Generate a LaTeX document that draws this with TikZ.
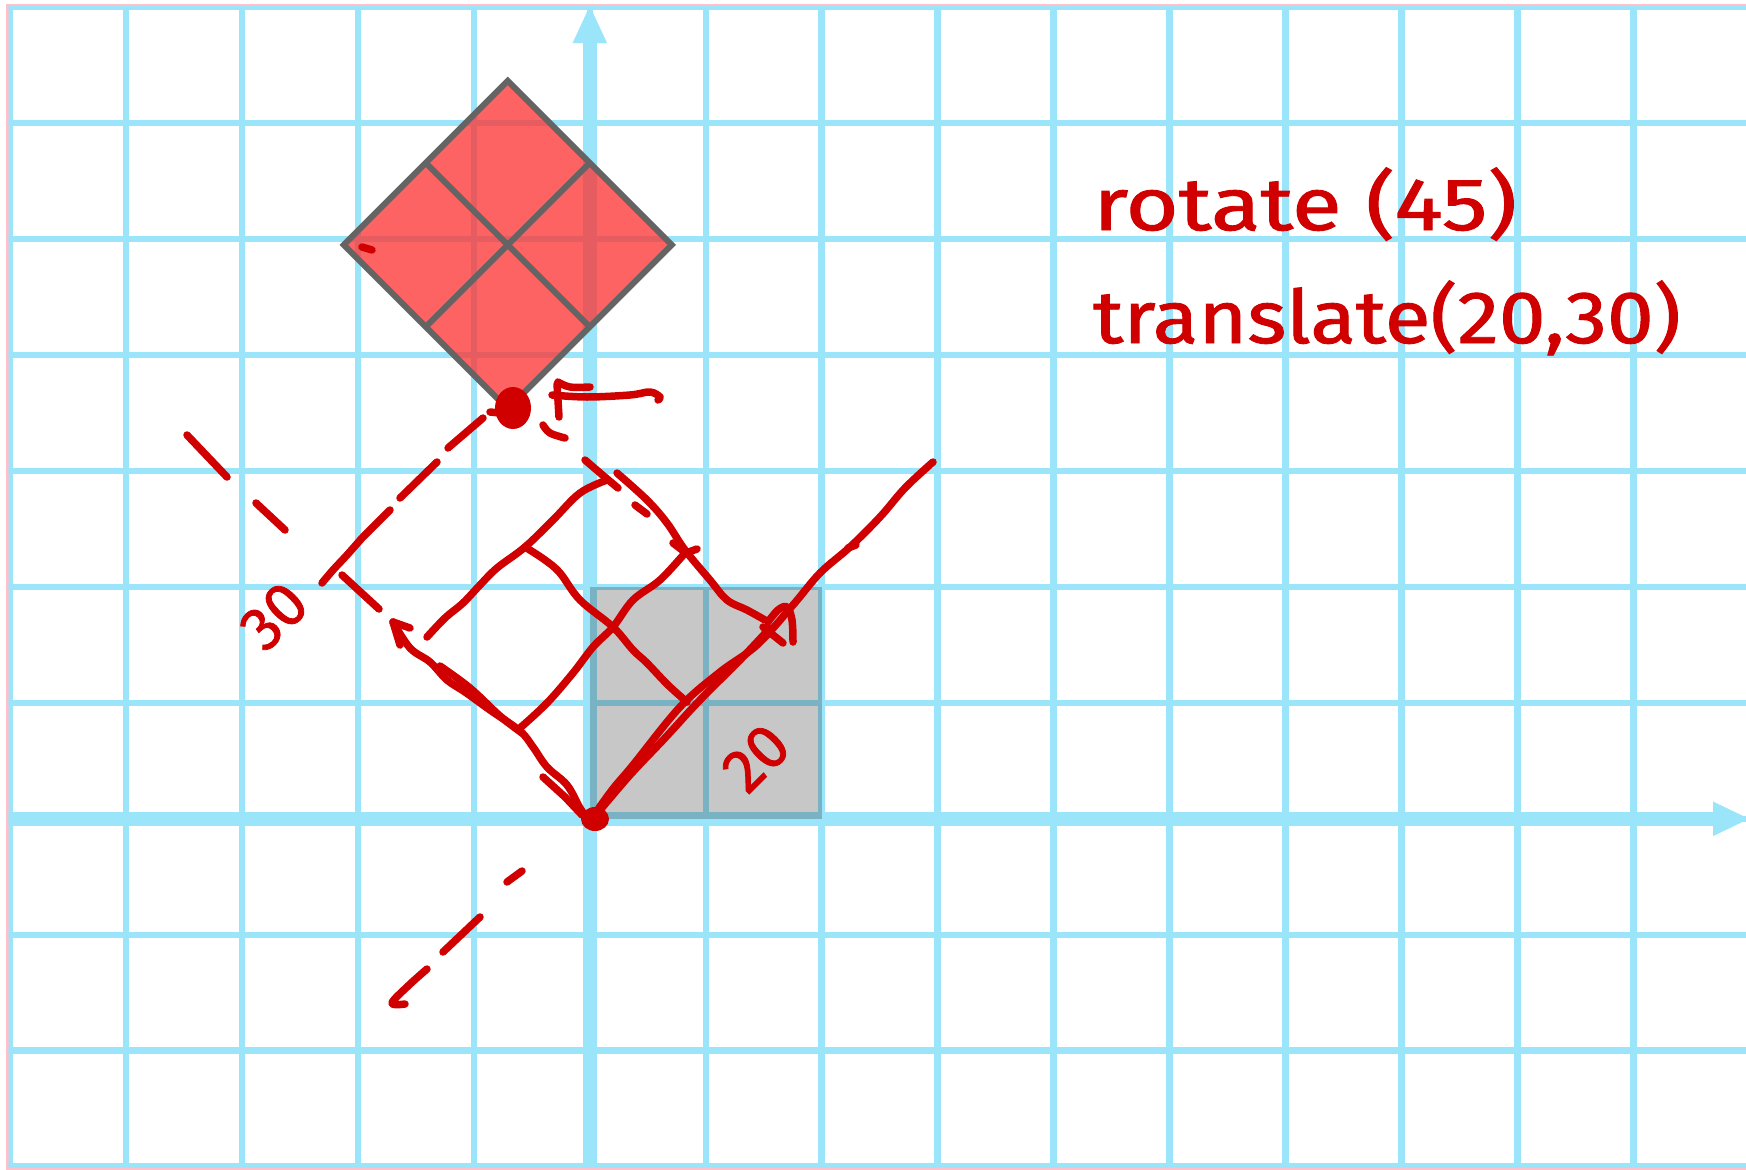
\documentclass[tikz,border=0pt]{standalone}
\usepackage{fontspec}
\setmainfont{Fira Sans}
\newfontfamily\penfont{Fira Sans}[FakeBold=1.2]
\usepackage{graphicx}
\definecolor{gridblue}{RGB}{155,229,250}
\definecolor{penred}{RGB}{208,0,0}
\definecolor{diamondred}{RGB}{254,47,47}
\definecolor{outlinegray}{RGB}{100,100,100}
\definecolor{framepink}{RGB}{255,192,203}
\begin{document}
\begin{tikzpicture}[x=1pt,y=-1pt,
  hand/.style={draw=penred,line width=7.5pt,line cap=round,line join=round},
  gridline/.style={gridblue,line width=6.5pt},
  axisline/.style={gridblue,line width=14pt},
  handtext/.style={text=penred,inner sep=0pt}]
\useasboundingbox (0,0) rectangle (1746,1170);
\fill[white] (0,0) rectangle (1746,1170);
\draw[framepink,line width=2.5pt] (7.5,5) rectangle (1780,1168.5);
% grid
\begin{scope}
\clip (8.7,6.3) rectangle (1746,1167.2);
\foreach \k in {-1,...,13} \draw[gridline] ({126+115.95*\k},0) -- ({126+115.95*\k},1170);
\foreach \k in {-1,...,9} \draw[gridline] (0,{1050.7-115.95*\k}) -- (1746,{1050.7-115.95*\k});
% axes
\draw[axisline] (589.8,1170) -- (589.8,38);
\fill[gridblue] (589.8,6) -- (607,43) -- (572.6,43) -- cycle;
\draw[axisline] (0,818.8) -- (1718,818.8);
\fill[gridblue] (1749,818.8) -- (1713,801.5) -- (1713,836.1) -- cycle;
\end{scope}
% gray square
\fill[black,opacity=0.22] (589.8,586.9) rectangle (821.7,818.8);
% rotated red square
\begin{scope}[shift={(589.8,818.8)},x={(81.99pt,81.99pt)},y={(-81.99pt,81.99pt)}]
\fill[diamondred,opacity=0.75] (2,3) -- (4,3) -- (4,5) -- (2,5) -- cycle;
\draw[outlinegray,line width=6pt] (2,3) -- (4,3) -- (4,5) -- (2,5) -- cycle (3,3) -- (3,5) (2,4) -- (4,4);
\end{scope}
% rotated x axis (solid, up-right)
\draw[hand] plot[smooth,tension=0.6] coordinates {(592,818) (612,790) (633,765) (680,707) (720,672) (757,645) (793,605) (820,573) (850,547) (880,517) (905,488) (933,462)};
\draw[hand] plot[smooth,tension=0.6] coordinates {(596,815) (630,775) (665,738) (700,700) (740,660) (770,628)};
\draw[hand] (848,548) -- (856,545);
% rotated x axis (dashed, down-left)
\draw[hand] (507,882) -- (522,871);
\draw[hand] (443,952) -- (480,917);
\draw[hand] plot[smooth,tension=0.6] coordinates {(427,969) (408,986) (392,1003) (405,1004)};
% lower-left edge / rotated y axis with arrow
\draw[hand] plot[smooth,tension=0.6] coordinates {(590,822) (580,808) (567,785) (547,767) (533,747) (520,731) (490,710) (465,692) (447,680) (430,662) (410,648) (393,622)};
\draw[hand] plot[smooth,tension=0.6] coordinates {(440,666) (470,688) (500,716) (522,733)};
\draw[hand] (543,777) -- (565,797) -- (582,815);
\draw[hand] (400,645) -- (393,622) -- (410,628);
\fill[penred] (595,819) ellipse [x radius=14pt,y radius=12pt];
% rotated y axis dashed beyond arrow
\draw[hand] (342,575) -- (379,609);
\draw[hand] (256,503) -- (285,530);
\draw[hand] (187,435) -- (227,477);
% upper-left edge
\draw[hand] plot[smooth,tension=0.6] coordinates {(427,637) (445,618) (463,603) (480,585) (497,568) (525,547) (553,520) (580,493) (607,480)};
% upper-right edge
\draw[hand] plot[smooth,tension=0.6] coordinates {(617,473) (647,500) (667,523) (685,550) (710,580) (727,600) (747,610) (765,620)};
\draw[hand] (673,543) -- (686,553) -- (697,549);
% inner lines
\draw[hand] plot[smooth,tension=0.6] coordinates {(525,547) (545,560) (560,573) (580,600) (613,627) (633,650) (647,663) (668,685) (687,702)};
\draw[hand] plot[smooth,tension=0.6] coordinates {(685,553) (660,580) (633,600) (613,627) (593,647) (573,673) (547,703) (520,728)};
% tick at the 20 point
\draw[hand] plot[smooth,tension=0.6] coordinates {(768,622) (778,610) (787,607) (792,620) (793,642)};
\draw[hand] (763,627) -- (783,643);
% dashed line from the dot, down-left
\draw[hand] (448,448) -- (483,418);
\draw[hand] (400,498) -- (437,462);
\draw[hand] (363,537) -- (390,510);
\draw[hand] plot[smooth,tension=0.6] coordinates {(322,583) (333,570) (347,555) (362,538)};
% dashed line from the dot, down-right
\draw[hand] plot[smooth,tension=0.6] coordinates {(543,425) (550,433) (565,438)};
\draw[hand] plot[smooth,tension=0.6] coordinates {(585,460) (606,478) (618,488)};
\draw[hand] (635,505) -- (647,514);
% dot and mark
\fill[penred] (513,408) ellipse [x radius=18pt,y radius=21pt];
\draw[hand] (490,412) -- (500,413);
\draw[hand] plot[smooth,tension=0.6] coordinates {(558,382) (570,387) (590,387)};
\draw[hand] (557,384) -- (559,417);
\draw[hand] plot[smooth,tension=0.6] coordinates {(552,395) (587,397) (630,395) (650,392) (660,397) (658,400)};
\draw[hand] (362,247) -- (372,250);
% labels
\node[handtext,rotate=45,font=\penfont\fontsize{62}{64}\selectfont] (lab30) at (274,616) {30};
\node[handtext,rotate=45,font=\penfont\fontsize{62}{64}\selectfont] (lab20) at (756,758) {20};
\node[handtext,anchor=base west,font=\penfont\fontsize{74}{78}\selectfont] (rot) at (1093,230) {\scalebox{1.23}[1]{rotate (45)}};
\node[handtext,anchor=base west,font=\penfont\fontsize{74}{78}\selectfont] (tra) at (1093,343) {\scalebox{1.13}[1]{translate(20,30)}};
\end{tikzpicture}
\end{document}
